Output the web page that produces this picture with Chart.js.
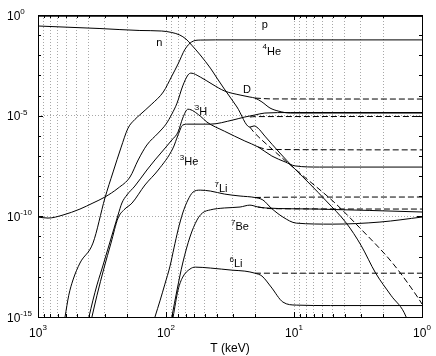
<!DOCTYPE html>
<html>
<head>
<meta charset="utf-8">
<script src="https://cdn.jsdelivr.net/npm/chart.js@4.4.1/dist/chart.umd.min.js"></script>
<style>
  html, body { margin: 0; padding: 0; background: #fff; }
</style>
</head>
<body>
<canvas id="bbn" width="436" height="356"></canvas>
<script>
// [T in keV, abundance]
const proton = [[1000, 0.87], [100, 0.86], [1, 0.85]];
const neutron = [[1000, 0.284], [328, 0.213], [160, 0.17], [108, 0.16], [90, 0.135], [78, 0.101], [69.8, 0.064], [63, 0.032], [54, 0.0103], [45, 2.3e-3], [40, 7.4e-4], [35, 2.1e-4], [27.9, 2.7e-5], [22.1, 2.7e-6], [20.5, 3.1e-6], [19.1, 2.4e-6], [16.9, 9.7e-7], [12.9, 1.4e-7], [10, 2.5e-8], [7.5, 4.0e-9], [5.6, 5.8e-10], [3.9, 4.6e-11], [3.0, 3.7e-12], [2.3, 1.5e-13], [1.75, 1.2e-14], [1.33, 1e-15], [1.2, 1e-16]];
const neutronStd = [[22.1, 2.7e-6], [20.9, 1.7e-6], [14.6, 2.0e-7], [9.0, 1.4e-8], [4.87, 5.1e-10], [3.1, 2.9e-11], [1.7, 4.8e-13], [1.07, 8.7e-15], [1.0, 4.4e-15]];
const helium4 = [[615, 1e-15], [575, 1.2e-14], [533, 6.9e-14], [470, 4.8e-13], [372, 4.7e-12], [300, 8.1e-10], [259, 1.6e-8], [225, 2.5e-7], [198, 2.4e-6], [175, 6.5e-6], [160, 1.1e-5], [129, 3.8e-5], [105, 1.5e-4], [90, 9.3e-4], [80.5, 3.7e-3], [71, 0.020], [63, 0.046], [54, 0.057], [41, 0.058], [1, 0.058]];
const deuterium = [[1000, 9.2e-11], [835, 8.2e-11], [638, 1.16e-10], [470, 2.3e-10], [372, 4.6e-10], [300, 9.1e-10], [237, 2.5e-9], [191, 9.0e-9], [165, 6.3e-8], [141, 3.5e-7], [115, 1.37e-6], [100, 3.8e-6], [90, 1.2e-5], [82, 4.2e-5], [74, 3.0e-4], [67.4, 1.04e-3], [63.8, 1.3e-3], [54, 8.3e-4], [43.7, 3.7e-4], [35, 1.7e-4], [26.4, 1.06e-4], [22.1, 8.4e-5], [20.2, 7.5e-5], [17.8, 4.8e-5], [15.4, 2.4e-5], [13.3, 1.7e-5], [10.7, 1.35e-5], [1, 1.35e-5]];
const deuteriumStd = [[20.2, 7.5e-5], [15, 6.8e-5], [1, 6.7e-5]];
const tritium = [[400, 1e-15], [372, 6.9e-15], [346, 3.9e-14], [310, 3.8e-13], [274, 5.3e-12], [237, 1.16e-10], [221, 4.6e-10], [202, 1.15e-9], [175, 3.2e-9], [141, 2.0e-8], [122, 6.3e-8], [108, 1.56e-7], [90, 6.2e-7], [80.5, 1.54e-6], [74, 7.6e-6], [67.4, 2.1e-5], [54, 9.6e-6], [47.9, 4.8e-6], [35, 1.7e-6], [24.2, 5.5e-7], [19.1, 2.8e-7], [14.9, 9.9e-8], [11.7, 5.0e-8], [9.8, 3.2e-8], [6.3, 2.8e-8], [1, 2.8e-8]];
const tritiumStd = [[19.1, 2.8e-7], [16, 2.1e-7], [1, 2.0e-7]];
const helium3 = [[379, 1e-15], [346, 1.2e-14], [305, 2.7e-13], [269, 4.7e-12], [237, 8.2e-11], [213, 2.1e-10], [184, 4.6e-10], [146, 3.6e-9], [115, 2.0e-8], [88, 2.5e-7], [80.5, 1.1e-6], [74, 3.4e-6], [67.4, 3.8e-6], [45, 3.8e-6], [30, 6.1e-6], [24.2, 8.6e-6], [20.2, 1.08e-5], [16.9, 1.35e-5], [10.7, 1.43e-5], [1, 1.43e-5]];
const helium3Std = [[22.1, 8.6e-6], [20, 9.0e-6], [1, 9.1e-6]];
const lithium7 = [[122, 1e-15], [111, 6.9e-15], [102, 4.3e-14], [93, 3.4e-13], [86.6, 2.7e-12], [80.5, 2.1e-11], [74, 1.46e-10], [67.4, 6.5e-10], [61.5, 1.6e-9], [54, 2.0e-9], [45, 1.8e-9], [35, 1.28e-9], [26.4, 1.02e-9], [20.2, 8.6e-10], [17.5, 6.5e-10], [15.1, 2.6e-10], [12.2, 9.2e-11], [9.6, 4.6e-11], [5.0, 4.1e-11], [2.13, 5.2e-11], [1, 9.2e-11]];
const lithium7Std = [[20.2, 8.6e-10], [15, 8.9e-10], [1, 9.1e-10]];
const beryllium7 = [[90, 1e-15], [82, 2.2e-14], [74, 4.8e-13], [65, 9.4e-12], [57.3, 6.5e-11], [52, 1.46e-10], [45, 2.1e-10], [35, 2.6e-10], [26.4, 2.9e-10], [22.1, 3.6e-10], [19.1, 2.9e-10], [16.6, 2.6e-10], [6.7, 2.3e-10], [1, 1.64e-10]];
const beryllium7Std = [[19.1, 2.9e-10], [15, 2.4e-10], [1, 2.3e-10]];
const lithium6 = [[88, 1e-15], [80.5, 2.2e-14], [74, 9.6e-14], [65, 2.4e-13], [59, 3.0e-13], [45, 2.7e-13], [30, 2.1e-13], [24.2, 1.9e-13], [20.2, 1.5e-13], [17.8, 1.08e-13], [15.1, 3.1e-14], [12.2, 5.5e-15], [9.6, 3.9e-15], [5.2, 3.7e-15], [1, 3.7e-15]];
const lithium6Std = [[20.2, 1.5e-13], [1, 1.5e-13]];

// curve labels
const labelText = ['p', 'n', 'He', 'D', 'H', 'He', 'Li', 'Be', 'Li'];
const labelMass = ['', '', '4', '', '3', '3', '7', '7', '6'];
const labelT = [16.9, 113, 14.9, 23.3, 53.3, 66, 37.2, 26.4, 28.4];
const labelY = [0.357, 0.046, 0.0163, 2.1e-4, 1.7e-5, 5.6e-8, 2.5e-9, 3.3e-11, 4.8e-13];

// axis ticks
const xMajor = [1000, 100, 10, 1];
const xExp = ['3', '2', '1', '0'];
const yMajor = [1, 1e-5, 1e-10, 1e-15];
const yExp = ['0', '-5', '-10', '-15'];

const FONT = '"Liberation Sans", Arial, Helvetica, sans-serif';

const xTicks = [];
for (let e = 0; e < 3; e++) {
    for (let m = 1; m < 10; m++) xTicks.push(m * Math.pow(10, e));
}
xTicks.push(1000);
const yTicks = [];
for (let e = -15; e <= 0; e++) yTicks.push(Math.pow(10, e));

function series(points, dashed) {
    return {
        data: points.map(p => ({ x: p[0], y: p[1] })),
        borderColor: '#000',
        borderWidth: 1,
        borderDash: dashed ? [6, 3] : [],
        pointRadius: 0,
        fill: false,
        cubicInterpolationMode: 'monotone'
    };
}

function drawPow(ctx, exp, left, base, supBase) {
    ctx.font = '12px ' + FONT;
    ctx.fillText('10', left, base);
    const w = ctx.measureText('10').width;
    ctx.font = '8px ' + FONT;
    ctx.fillText(exp, left + w, supBase);
}

function powWidth(ctx, exp) {
    ctx.font = '12px ' + FONT;
    const w = ctx.measureText('10').width;
    ctx.font = '8px ' + FONT;
    return w + ctx.measureText(exp).width;
}

const isMajorX = v => xMajor.includes(v);
const isMajorY = v => Math.abs(Math.log10(v)) % 5 < 1e-9;

const decorations = {
    id: 'decorations',
    afterDraw(chart) {
        const { ctx, chartArea: a, scales: { x, y } } = chart;
        ctx.save();
        ctx.strokeStyle = '#000';
        ctx.lineWidth = 1;
        ctx.setLineDash([]);
        ctx.beginPath();
        xTicks.forEach(v => {
            const px = Math.round(x.getPixelForValue(v)) + 0.5;
            const len = isMajorX(v) ? 5 : 3;
            ctx.moveTo(px, a.bottom); ctx.lineTo(px, a.bottom - len);
            ctx.moveTo(px, a.top); ctx.lineTo(px, a.top + len);
        });
        yTicks.forEach(v => {
            const py = Math.round(y.getPixelForValue(v)) + 0.5;
            const len = isMajorY(v) ? 5 : 3;
            ctx.moveTo(a.left, py); ctx.lineTo(a.left + len, py);
            ctx.moveTo(a.right, py); ctx.lineTo(a.right - len, py);
        });
        ctx.stroke();
        ctx.strokeRect(Math.round(a.left) + 0.5, Math.round(a.top) + 0.5,
            Math.round(a.width), Math.round(a.height));

        // tick labels
        ctx.fillStyle = '#000';
        ctx.textAlign = 'left';
        ctx.textBaseline = 'alphabetic';
        xMajor.forEach((v, i) => {
            const px = x.getPixelForValue(v);
            const w = powWidth(ctx, xExp[i]);
            drawPow(ctx, xExp[i], px - w / 2, a.bottom + 20, a.bottom + 13);
        });
        yMajor.forEach((v, i) => {
            const py = y.getPixelForValue(v);
            drawPow(ctx, yExp[i], 7, py + 4.5, py - 1);
        });

        // axis title
        ctx.font = '12px ' + FONT;
        ctx.textAlign = 'center';
        ctx.fillText('T (keV)', (a.left + a.right) / 2, a.bottom + 35);

        // curve labels
        ctx.textAlign = 'left';
        labelText.forEach((t, i) => {
            const cx = x.getPixelForValue(labelT[i]);
            const cy = y.getPixelForValue(labelY[i]);
            ctx.font = '8px ' + FONT;
            const wm = labelMass[i] ? ctx.measureText(labelMass[i]).width : 0;
            ctx.font = '11px ' + FONT;
            const wt = ctx.measureText(t).width;
            const left = cx - (wm + wt) / 2;
            if (labelMass[i]) {
                ctx.font = '8px ' + FONT;
                ctx.fillText(labelMass[i], left, cy - 1.5);
            }
            ctx.font = '11px ' + FONT;
            ctx.fillText(t, left + wm, cy + 4);
        });
        ctx.restore();
    }
};

new Chart(document.getElementById('bbn'), {
    type: 'line',
    data: {
        datasets: [
            series(proton, false),
            series(neutron, false),
            series(neutronStd, true),
            series(helium4, false),
            series(deuterium, false),
            series(deuteriumStd, true),
            series(tritium, false),
            series(tritiumStd, true),
            series(helium3, false),
            series(helium3Std, true),
            series(lithium7, false),
            series(lithium7Std, true),
            series(beryllium7, false),
            series(beryllium7Std, true),
            series(lithium6, false),
            series(lithium6Std, true)
        ]
    },
    options: {
        responsive: false,
        animation: false,
        layout: { padding: { left: 38, right: 14, top: 15, bottom: 39 } },
        plugins: { legend: { display: false }, tooltip: { enabled: false } },
        scales: {
            x: {
                type: 'logarithmic',
                reverse: true,
                min: 1,
                max: 1000,
                afterBuildTicks: s => { s.ticks = xTicks.map(v => ({ value: v })); },
                ticks: { display: false },
                grid: { color: '#a8a8a8', drawTicks: false },
                border: { display: false, dash: [1, 2] }
            },
            y: {
                type: 'logarithmic',
                min: 1e-15,
                max: 1,
                afterBuildTicks: s => { s.ticks = yTicks.map(v => ({ value: v })); },
                ticks: { display: false },
                grid: {
                    drawTicks: false,
                    color: c => (c.tick && isMajorY(c.tick.value) ? '#a8a8a8' : 'rgba(0,0,0,0)')
                },
                border: { display: false, dash: [1, 2] }
            }
        }
    },
    plugins: [decorations]
});
</script>
</body>
</html>
